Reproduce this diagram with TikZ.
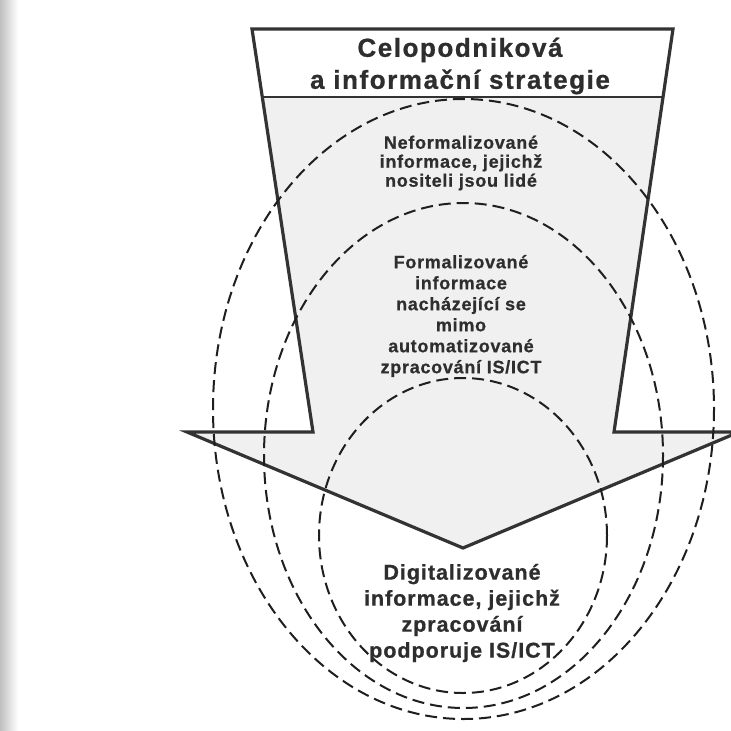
\documentclass[tikz,border=0pt]{standalone}
\usepackage{fontspec}
\setmainfont{Liberation Sans}
\newfontfamily\titlefont{Liberation Sans}[LetterSpace=6,BoldFeatures={FakeBold=0.8}]
\newfontfamily\smallfont{Liberation Sans}[LetterSpace=4,BoldFeatures={FakeBold=0.6}]
\newfontfamily\bigfont{Liberation Sans}[LetterSpace=4.5,BoldFeatures={FakeBold=0.7}]
\begin{document}
\begin{tikzpicture}[x=1pt,y=-1pt,
  outline/.style={draw=black!80,line width=3.2pt,line join=miter},
  dashring/.style={draw=black!88,line width=2pt,dash pattern=on 12pt off 6pt},
  txt/.style={align=center,text=black!82,inner sep=0pt}]
\useasboundingbox (0,0) rectangle (731,731);
\clip (0,0) rectangle (731,731);
\fill[white] (0,0) rectangle (731,731);
\shade[left color=black!25,right color=white] (0,0) rectangle (18,731);
% key points of the arrow
\coordinate (tl) at (252,29);
\coordinate (tr) at (673,29);
\coordinate (sl) at (262.3,97);
\coordinate (sr) at (663,97);
\coordinate (bl) at (313,432);
\coordinate (br) at (614,432);
\coordinate (wl) at (187,432);
\coordinate (wr) at (739,432);
\coordinate (tip) at (463,548);
% shaded body
\fill[black!6] (sl) -- (sr) -- (br) -- (wr) -- (tip) -- (wl) -- (bl) -- cycle;
% outline
\draw[outline] (tl) -- (tr) -- (br) -- (wr) -- (tip) -- (wl) -- (bl) -- cycle;
\draw[outline,line width=2.4pt] (sl) -- (sr);
% dashed ellipses
\draw[dashring] (463.5,409) ellipse [x radius=250.5, y radius=310];
\draw[dashring] (463.5,455.5) ellipse [x radius=199.5, y radius=252.5];
\draw[dashring] (463,535.5) ellipse [x radius=144, y radius=157.5];
% texts
\node[txt,font=\titlefont\bfseries\fontsize{26}{32}\selectfont] (title) at (460,66)
  {Celopodniková\\a informační strategie};
\node[txt,font=\smallfont\bfseries\fontsize{18}{19}\selectfont] (neform) at (461,163)
  {Neformalizované\\informace, jejichž\\nositeli jsou lidé};
\node[txt,font=\smallfont\bfseries\fontsize{18}{21}\selectfont] (form) at (461,316)
  {Formalizované\\informace\\nacházející se\\mimo\\automatizované\\zpracování IS/ICT};
\node[txt,font=\bigfont\bfseries\fontsize{21.5}{26}\selectfont] (digit) at (462,613)
  {Digitalizované\\informace, jejichž\\zpracování\\podporuje IS/ICT};
\end{tikzpicture}
\end{document}
